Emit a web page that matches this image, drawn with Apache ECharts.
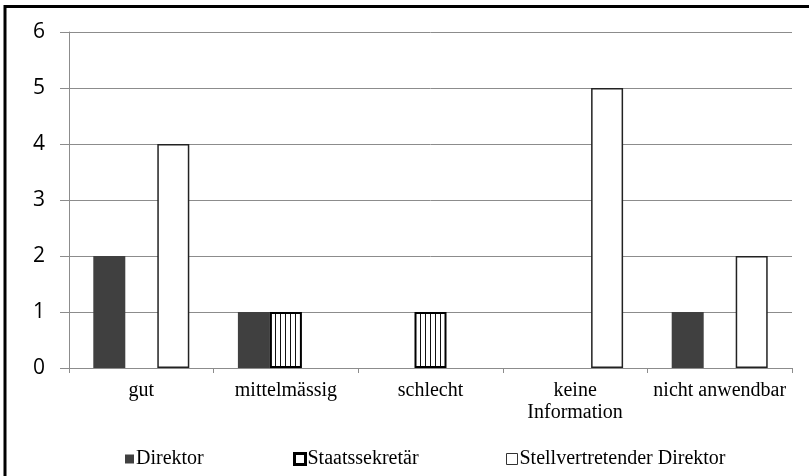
<!DOCTYPE html>
<html>
<head>
<meta charset="utf-8">
<script src="https://cdn.jsdelivr.net/npm/echarts@6/dist/echarts.min.js"></script>
<style>
  html, body { margin: 0; padding: 0; background: #fff; }
  #chart { width: 809px; height: 476px; }
</style>
</head>
<body>
<div id="chart"></div>
<script>
var categories = ['gut', 'mittelmässig', 'schlecht', 'keine\nInformation', 'nicht anwendbar'];
var direktor = [2, 1, 0, 0, 1];
var staatssekretaer = [0, 1, 1, 0, 0];
var stellvertreter = [4, 0, 0, 5, 2];
var yTicks = [0, 1, 2, 3, 4, 5, 6];

// vertical stripe pattern for Staatssekretär
var stripe = document.createElement('canvas');
stripe.width = 5;
stripe.height = 4;
var ctx = stripe.getContext('2d');
ctx.fillStyle = '#fff';
ctx.fillRect(0, 0, 5, 4);
ctx.fillStyle = '#111';
ctx.fillRect(0, 0, 1, 4);

// zero bars are not drawn in the original
function noZero(arr) {
    return arr.map(function (v) { return v === 0 ? '-' : v; });
}

var dom = document.getElementById('chart');
var myChart = echarts.init(dom);
var serif = '"Liberation Serif", "Times New Roman", serif';

var legendText = { fontFamily: serif, fontSize: 20, color: '#000', padding: [0, 0, 0, -3] };

var option = {
    animation: false,
    backgroundColor: '#fff',
    graphic: [{
        type: 'rect',
        shape: { x: 5, y: 6.5, width: 820, height: 480 },
        style: { fill: 'none', stroke: '#000', lineWidth: 3 },
        z: 100
    }],
    grid: {
        left: 69,
        right: 17,
        top: 32,
        bottom: 108
    },
    legend: [
        {
            left: 120, top: 444, itemWidth: 9, itemHeight: 9,
            textStyle: legendText,
            data: [{ name: 'Direktor', icon: 'rect' }]
        },
        {
            left: 288, top: 444, itemWidth: 11, itemHeight: 11,
            textStyle: legendText,
            data: [{ name: 'Staatssekretär', icon: 'rect',
                     itemStyle: { color: '#fff', borderColor: '#000', borderWidth: 3 } }]
        },
        {
            left: 501, top: 444, itemWidth: 11, itemHeight: 11,
            textStyle: legendText,
            data: [{ name: 'Stellvertretender Direktor', icon: 'rect',
                     itemStyle: { color: '#fff', borderColor: '#333', borderWidth: 1 } }]
        }
    ],
    xAxis: {
        type: 'category',
        data: categories,
        axisLine: { lineStyle: { color: '#8c8c8c', width: 1 } },
        axisTick: { show: true, length: 5, lineStyle: { color: '#8c8c8c' } },
        axisLabel: {
            fontFamily: serif,
            fontSize: 20,
            color: '#000',
            margin: 12,
            lineHeight: 22,
            interval: 0
        }
    },
    yAxis: {
        type: 'value',
        min: yTicks[0],
        max: yTicks[yTicks.length - 1],
        interval: 1,
        axisLine: { show: true, lineStyle: { color: '#8c8c8c', width: 1 } },
        axisTick: { show: true, length: 9, lineStyle: { color: '#8c8c8c' } },
        axisLabel: {
            fontFamily: '"Open Sans", "Liberation Sans", sans-serif',
            fontSize: 21,
            color: '#000',
            margin: 24
        },
        splitLine: { lineStyle: { color: '#8c8c8c', width: 1 } }
    },
    series: [
        {
            name: 'Direktor',
            type: 'bar',
            barWidth: 32,
            barGap: '0%',
            data: noZero(direktor),
            itemStyle: { color: '#404040', borderColor: '#404040', borderWidth: 0 }
        },
        {
            name: 'Staatssekretär',
            type: 'bar',
            barWidth: 32,
            barGap: '0%',
            data: noZero(staatssekretaer),
            itemStyle: {
                color: { image: stripe, repeat: 'repeat' },
                borderColor: '#000',
                borderWidth: 2
            }
        },
        {
            name: 'Stellvertretender Direktor',
            type: 'bar',
            barWidth: 32,
            barGap: '0%',
            data: noZero(stellvertreter),
            itemStyle: { color: '#fff', borderColor: '#222', borderWidth: 1.5 }
        }
    ]
};

if (option && typeof option === "object") {
    myChart.setOption(option, true);
}
</script>
</body>
</html>
